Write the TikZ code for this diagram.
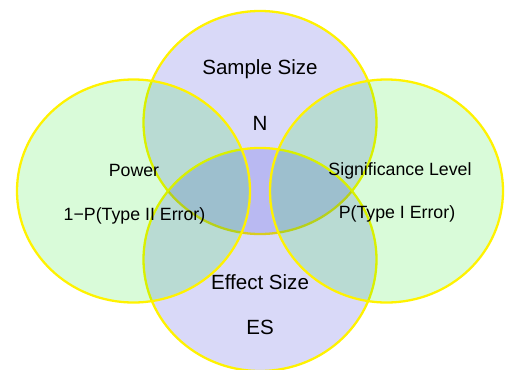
\documentclass[tikz,border=0pt]{standalone}
\usepackage{fontspec}
\setmainfont{Liberation Sans}
\usepackage{tikz}
\usetikzlibrary{positioning}

\definecolor{vennblue}{RGB}{0,0,209}
\definecolor{venngreen}{RGB}{0,230,0}

\begin{document}
\begin{tikzpicture}[
    setblue/.style={fill=vennblue, fill opacity=0.15, draw=yellow, line width=1.3pt},
    setgreen/.style={fill=venngreen, fill opacity=0.15, draw=yellow, line width=1.3pt},
    big/.style={anchor=base, font=\fontsize{11.7}{14}\selectfont, inner sep=0pt},
    small/.style={anchor=base, font=\fontsize{10.1}{12}\selectfont, inner sep=0pt}
]
\useasboundingbox (0,0) rectangle (10.16,7.38);
% the four sets
\draw[setblue] (5.2,4.93) ellipse [x radius=2.33, y radius=2.23];
\draw[setblue] (5.2,2.19) ellipse [x radius=2.33, y radius=2.23];
\draw[setgreen] (2.67,3.56) ellipse [x radius=2.33, y radius=2.23];
\draw[setgreen] (7.73,3.56) ellipse [x radius=2.33, y radius=2.23];

\node[big] (ssize) at (5.2,5.9) {Sample Size};
\node[big] (n) at (5.2,4.78) {N};
\node[small] (power) at (2.68,3.86) {Power};
\node[small] (typeII) at (2.69,2.98) {1−P(Type II Error)};
\node[small] (siglevel) at (8.0,3.88) {Significance Level};
\node[small] (typeI) at (7.94,3.02) {P(Type I Error)};
\node[big] (esize) at (5.2,1.6) {Effect Size};
\node[big] (es) at (5.2,0.7) {ES};
\end{tikzpicture}
\end{document}
